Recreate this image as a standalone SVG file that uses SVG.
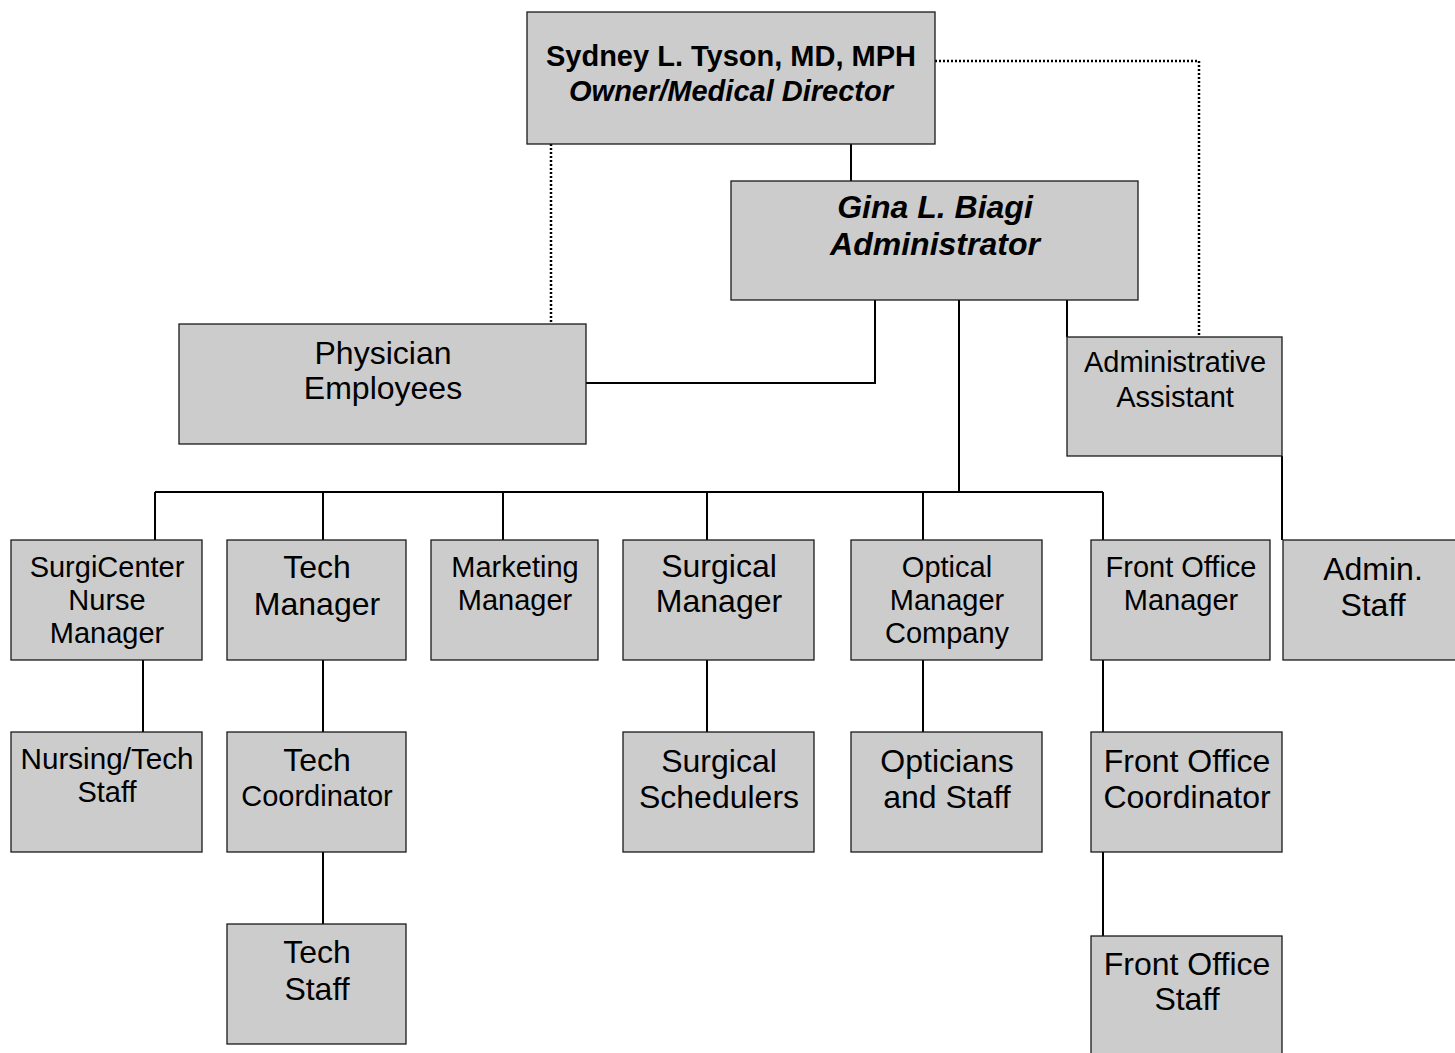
<svg xmlns="http://www.w3.org/2000/svg" width="1455" height="1053" viewBox="0 0 1455 1053">
<style>
.box{fill:#cccccc;stroke:#1a1a1a;stroke-width:1.3}
text{font-family:"Liberation Sans",Arial,sans-serif;fill:#000;text-anchor:middle}
.s29{font-size:29px}
.s32{font-size:32px}
.b{font-weight:bold}
.i{font-style:italic}
.ln{stroke:#000;stroke-width:2;fill:none}
.dot{stroke:#000;stroke-width:2.5;fill:none;stroke-dasharray:2,2}
</style>
<rect width="1455" height="1053" fill="#fff"/>
<g id="connectors">
<path class="ln" d="M851,144V181"/>
<path class="dot" d="M551,144V324"/>
<path class="dot" d="M935,61H1199V337"/>
<path class="ln" d="M875,300V383H586"/>
<path class="ln" d="M1067,300V337"/>
<path class="ln" d="M959,300V492"/>
<path class="ln" d="M155,492H1103"/>
<path class="ln" d="M155,492V540M323,492V540M503,492V540M707,492V540M923,492V540M1103,492V540"/>
<path class="ln" d="M1282,456V540"/>
<path class="ln" d="M143,660V732M323,660V732M707,660V732M923,660V732M1103,660V732"/>
<path class="ln" d="M323,852V924M1103,852V936"/>
</g>
<g id="n-tyson"><rect class="box" x="527" y="12" width="408" height="132"/>
<text class="s29 b" x="731" y="66">Sydney L. Tyson, MD, MPH</text>
<text class="s29 b i" x="731" y="101">Owner/Medical Director</text></g>
<g id="n-biagi"><rect class="box" x="731" y="181" width="407" height="119"/>
<text class="s32 b i" x="935" y="218">Gina L. Biagi</text>
<text class="s32 b i" x="935" y="255">Administrator</text></g>
<g id="n-physician"><rect class="box" x="179" y="324" width="407" height="120"/>
<text class="s32" x="383" y="364">Physician</text>
<text class="s32" x="383" y="399">Employees</text></g>
<g id="n-adminasst"><rect class="box" x="1067" y="337" width="215" height="119"/>
<text class="s29" x="1175" y="372">Administrative</text>
<text class="s29" x="1175" y="407">Assistant</text></g>
<g id="n-surgicenter"><rect class="box" x="11" y="540" width="191" height="120"/>
<text class="s29" x="107" y="577">SurgiCenter</text>
<text class="s29" x="107" y="610">Nurse</text>
<text class="s29" x="107" y="643">Manager</text></g>
<g id="n-techmgr"><rect class="box" x="227" y="540" width="179" height="120"/>
<text class="s32" x="317" y="578">Tech</text>
<text class="s32" x="317" y="615">Manager</text></g>
<g id="n-marketing"><rect class="box" x="431" y="540" width="167" height="120"/>
<text class="s29" x="515" y="577">Marketing</text>
<text class="s29" x="515" y="610">Manager</text></g>
<g id="n-surgmgr"><rect class="box" x="623" y="540" width="191" height="120"/>
<text class="s32" x="719" y="577">Surgical</text>
<text class="s32" x="719" y="612">Manager</text></g>
<g id="n-optical"><rect class="box" x="851" y="540" width="191" height="120"/>
<text class="s29" x="947" y="577">Optical</text>
<text class="s29" x="947" y="610">Manager</text>
<text class="s29" x="947" y="643">Company</text></g>
<g id="n-fomgr"><rect class="box" x="1091" y="540" width="179" height="120"/>
<text class="s29" x="1181" y="577">Front Office</text>
<text class="s29" x="1181" y="610">Manager</text></g>
<g id="n-adminstaff"><rect class="box" x="1283" y="540" width="180" height="120"/>
<text class="s32" x="1373" y="580">Admin.</text>
<text class="s32" x="1373" y="616">Staff</text></g>
<g id="n-nursing"><rect class="box" x="11" y="732" width="191" height="120"/>
<text class="s29" x="107" y="769" textLength="173" lengthAdjust="spacingAndGlyphs">Nursing/Tech</text>
<text class="s29" x="107" y="802">Staff</text></g>
<g id="n-techcoord"><rect class="box" x="227" y="732" width="179" height="120"/>
<text class="s32" x="317" y="771">Tech</text>
<text class="s29" x="317" y="806">Coordinator</text></g>
<g id="n-schedulers"><rect class="box" x="623" y="732" width="191" height="120"/>
<text class="s32" x="719" y="772">Surgical</text>
<text class="s32" x="719" y="808">Schedulers</text></g>
<g id="n-opticians"><rect class="box" x="851" y="732" width="191" height="120"/>
<text class="s32" x="947" y="772">Opticians</text>
<text class="s32" x="947" y="808">and Staff</text></g>
<g id="n-focoord"><rect class="box" x="1091" y="732" width="191" height="120"/>
<text class="s32" x="1187" y="772">Front Office</text>
<text class="s32" x="1187" y="808">Coordinator</text></g>
<g id="n-techstaff"><rect class="box" x="227" y="924" width="179" height="120"/>
<text class="s32" x="317" y="963">Tech</text>
<text class="s32" x="317" y="1000">Staff</text></g>
<g id="n-fostaff"><rect class="box" x="1091" y="936" width="191" height="130"/>
<text class="s32" x="1187" y="975">Front Office</text>
<text class="s32" x="1187" y="1010">Staff</text></g>
</svg>
